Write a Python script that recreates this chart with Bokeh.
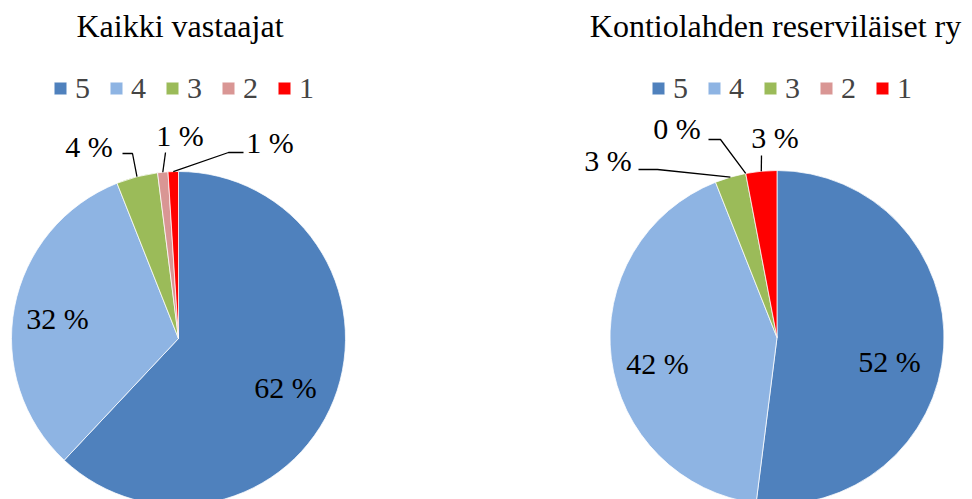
import math
from bokeh.plotting import figure
from bokeh.models import Range1d, Legend, LegendItem, ColumnDataSource
from bokeh.embed import file_html
from bokeh.resources import INLINE
from bokeh.core.properties import value

# ---- data ----
categories = ["5", "4", "3", "2", "1"]
kaikki_vastaajat = [62, 32, 4, 1, 1]
kontiolahti = [52, 42, 3, 0, 3]
titles = ["Kaikki vastaajat", "Kontiolahden reserviläiset ry"]

# ---- style / layout ----
colors = ["#4F81BD", "#8EB4E3", "#9BBB59", "#D99694", "#FF0000"]
FONT_NAME = "Liberation Serif"
FONT = value(FONT_NAME)
W, H = 972, 499
R = 167
TEXT_DY = 10  # compensation for baseline placement of svg text
centers = [(178, 161), (776.5, 162)]
title_pos = [(179.5, 464), (775, 464)]
legend_pos = [(52, 394), (650, 394)]
# label anchor (x, baseline y) per slice, and leader-line label-side points (None = inside label)
label_pos = [
    [(285, 102), (57, 171), (88.5, 343), (179.5, 354), (269.5, 347)],
    [(889, 128), (657, 126), (607.5, 329), (676.5, 361), (774.5, 352)],
]
leader_pts = [
    [None, None, [(122, 346), (132, 346)], [(165, 347)], [(243, 347), (228, 347)]],
    [None, None, [(638, 330), (657, 330)], [(708, 360), (720, 360)], [(761, 344)]],
]

p = figure(width=W, height=H, x_range=Range1d(0, W), y_range=Range1d(0, H),
           output_backend="svg", toolbar_location=None, min_border=0,
           x_axis_location=None, y_axis_location=None)
p.grid.visible = False
p.outline_line_color = None
p.background_fill_color = "white"

legend_renderer = None
for k, vals in enumerate([kaikki_vastaajat, kontiolahti]):
    cx, cy = centers[k]
    total = float(sum(vals))
    cum = 0.0
    rows = dict(x=[], y=[], start=[], end=[], color=[])
    mids = []
    for i, v in enumerate(vals):
        f = v / total
        a_end = math.pi / 2 - 2 * math.pi * cum
        a_start = math.pi / 2 - 2 * math.pi * (cum + f)
        mids.append(math.pi / 2 - 2 * math.pi * (cum + f / 2))
        cum += f
        if v > 0:
            rows["x"].append(cx); rows["y"].append(cy)
            rows["start"].append(a_start); rows["end"].append(a_end)
            rows["color"].append(colors[i])
    src = ColumnDataSource(rows)
    r = p.wedge(x="x", y="y", radius=R, start_angle="start", end_angle="end",
                fill_color="color", line_color="white", line_width=0.75, source=src)
    if all(v > 0 for v in vals) and legend_renderer is None:
        legend_renderer = r

    # labels
    lx = [pt[0] for pt in label_pos[k]]
    ly = [pt[1] + TEXT_DY for pt in label_pos[k]]
    txt = ["%d %%" % v for v in vals]
    p.text(x=lx, y=ly, text=txt, text_align="center", text_baseline="alphabetic",
           text_font=FONT, text_font_size="30px", text_color="black")

    # leader lines
    xs, ys = [], []
    for i, pts in enumerate(leader_pts[k]):
        if pts is None:
            continue
        ex = cx + R * math.cos(mids[i])
        ey = cy + R * math.sin(mids[i])
        xs.append([q[0] for q in pts] + [ex])
        ys.append([q[1] for q in pts] + [ey])
    p.multi_line(xs=xs, ys=ys, line_color="black", line_width=1.3)

    # title
    p.text(x=[title_pos[k][0]], y=[title_pos[k][1] + TEXT_DY], text=[titles[k]],
           text_align="center", text_baseline="alphabetic",
           text_font=FONT, text_font_size="32px", text_color="black")

for k in range(2):
    items = [LegendItem(label=c, renderers=[legend_renderer], index=i)
             for i, c in enumerate(categories)]
    leg = Legend(items=items, orientation="horizontal", location=legend_pos[k],
                 glyph_width=16, glyph_height=16, label_standoff=7, spacing=18,
                 label_width=0, label_height=0, padding=0, margin=0,
                 label_text_font=FONT_NAME, label_text_font_size="30px",
                 border_line_alpha=0, background_fill_alpha=0)
    p.add_layout(leg)

open("out.html", "w").write(file_html(p, INLINE))
